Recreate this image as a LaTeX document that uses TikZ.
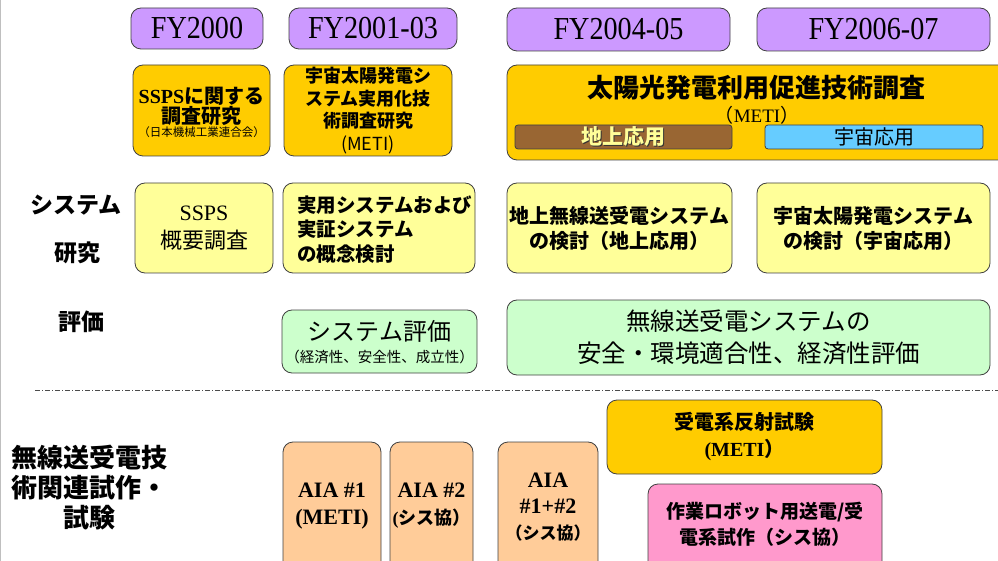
\documentclass[tikz,border=0pt]{standalone}
\usepackage{fontspec}
\setmainfont{Liberation Serif}
\newfontfamily\condserif{Liberation Serif}[FakeStretch=0.88]
\newfontfamily\jp{Noto Sans CJK JP}
\newcommand\jb{\jp\bfseries}
\definecolor{fypurple}{HTML}{CC99FF}
\definecolor{gold}{HTML}{FFCC00}
\definecolor{lyellow}{HTML}{FFFF99}
\definecolor{lgreen}{HTML}{CCFFCC}
\definecolor{brownbar}{HTML}{996633}
\definecolor{skyblue}{HTML}{66CCFF}
\definecolor{peach}{HTML}{FFCC99}
\definecolor{pinkbox}{HTML}{FF99CC}
\begin{document}
\begin{tikzpicture}[x=1pt,y=-1pt,
  box/.style={draw=black!75, line width=0.8pt, rounded corners=10pt, inner sep=0pt, align=center},
  bar/.style={draw=black!75, line width=0.8pt, rounded corners=3pt, inner sep=0pt, align=center},
  txt/.style={inner sep=0pt, align=center},
  fyfont/.style={font=\fontsize{32}{34}\selectfont\condserif},
  aiafont/.style={font=\fontsize{22}{27}\selectfont\bfseries},
  lbl/.style={inner sep=0pt, align=center, font=\fontsize{23}{30}\selectfont\jb}]
\path[use as bounding box] (0,0) rectangle (998,561);
\draw[gray!50, line width=1pt] (0.5,0) -- (0.5,561);
% year headers
\node[box, fill=fypurple, minimum width=132pt, minimum height=41pt, fyfont] (fy1) at (197,28.5) {FY2000};
\node[box, fill=fypurple, minimum width=168pt, minimum height=41pt, fyfont] (fy2) at (373,28.5) {FY2001-03};
\node[box, fill=fypurple, minimum width=223pt, minimum height=43pt, fyfont] (fy3) at (618.5,29.5) {FY2004-05};
\node[box, fill=fypurple, minimum width=233pt, minimum height=43pt, fyfont] (fy4) at (873.5,29.5) {FY2006-07};
% row 2
\node[box, fill=gold, minimum width=137pt, minimum height=91pt] (r2a) at (201.5,110.5) {};
\node[txt] (r2at) at (201.5,112) {{\fontsize{20}{24}\selectfont\bfseries SSPS\jb に関する}\\{\fontsize{20}{24}\selectfont\jb 調査研究}\\[1pt]{\fontsize{11.5}{13}\selectfont\jp （日本機械工業連合会）}};
\node[box, fill=gold, minimum width=168pt, minimum height=91pt, font=\fontsize{18}{22.5}\selectfont\jb] (r2b) at (368,110.5) {宇宙太陽発電シ\\ステム実用化技\\術調査研究\\{\mdseries (METI)}};
\node[box, fill=gold, minimum width=503pt, minimum height=95pt] (r2c) at (758.5,112.5) {};
\node[txt, font=\fontsize{26}{30}\selectfont\jb] (r2ct) at (756,88) {太陽光発電利用促進技術調査};
\node[txt, font=\fontsize{19}{20}\selectfont] (r2cm) at (757,115) {{\jp （}METI{\jp ）}};
\node[bar, fill=brownbar, minimum width=217pt, minimum height=24pt] (gnd) at (623.5,137) {};
\node[txt, font=\fontsize{21}{24}\selectfont\jb, text=black!80] at (624.5,138) {地上応用};
\node[txt, font=\fontsize{21}{24}\selectfont\jb, text=lyellow] (gndt) at (623.5,137) {地上応用};
\node[bar, fill=skyblue, minimum width=218pt, minimum height=24pt, font=\fontsize{20}{24}\selectfont\jp] (spc) at (874,137) {宇宙応用};
% row 3
\node[lbl] (lsys) at (76,205) {システム};
\node[lbl] (lken) at (77,253) {研究};
\node[box, fill=lyellow, minimum width=138pt, minimum height=90pt, font=\fontsize{22}{28}\selectfont] (r3a) at (204,228) {SSPS\\{\jp 概要調査}};
\node[box, fill=lyellow, minimum width=192pt, minimum height=90pt] (r3b) at (379,228) {};
\node[txt, align=left, anchor=west, font=\fontsize{19.5}{24.5}\selectfont\jb] (r3bt) at (297,229.5) {実用システムおよび\\実証システム\\の概念検討};
\node[box, fill=lyellow, minimum width=225pt, minimum height=90pt, font=\fontsize{20}{25}\selectfont\jb] (r3c) at (619.5,228) {地上無線送受電システム\\の検討（地上応用）};
\node[box, fill=lyellow, minimum width=233pt, minimum height=90pt, font=\fontsize{20}{25}\selectfont\jb] (r3d) at (873.5,228) {宇宙太陽発電システム\\の検討（宇宙応用）};
% row 4
\node[lbl] (lhyo) at (81,322) {評価};
\node[box, fill=lgreen, minimum width=195pt, minimum height=63pt] (r4a) at (379.5,341.5) {};
\node[txt, font=\fontsize{24}{28}\selectfont\jp] (r4at) at (379.5,331) {システム評価};
\node[txt, font=\fontsize{14.5}{16}\selectfont\jp] (r4as) at (379.5,357) {（経済性、安全性、成立性）};
\node[box, fill=lgreen, minimum width=483pt, minimum height=75pt, font=\fontsize{24.5}{32}\selectfont\jp] (r4b) at (748.5,337.5) {無線送受電システムの\\安全・環境適合性、経済性評価};
% separator
\coordinate (sepL) at (35,390);
\coordinate (sepR) at (998,390);
\draw[black!70, line width=0.7pt, dash pattern=on 5pt off 2pt on 1pt off 2pt] (sepL) -- (sepR);
% row 5
\node[lbl, font=\fontsize{26}{30}\selectfont\jb] (lmusen) at (89,488) {無線送受電技\\術関連試作・\\試験};
\node[box, fill=gold, minimum width=275pt, minimum height=74pt, font=\fontsize{20}{27}\selectfont\bfseries] (r5a) at (744.5,437) {{\jb 受電系反射試験}\\(METI{\jb ）}};
\node[box, fill=peach, minimum width=98pt, minimum height=140pt] (aia1) at (332,512) {};
\node[txt, aiafont] (aia1t) at (332,506) {AIA \#1\\(METI)};
\node[box, fill=peach, minimum width=83pt, minimum height=140pt] (aia2) at (431.5,512) {};
\node[txt, aiafont] (aia2t) at (431.5,506) {AIA \#2\\{\fontsize{18}{20}\selectfont(\jb シス協）}};
\node[box, fill=peach, minimum width=100pt, minimum height=140pt] (aia3) at (548,512) {};
\node[txt, aiafont, font=\fontsize{22}{26}\selectfont\bfseries] (aia3t) at (548,507) {AIA\\\#1+\#2\\{\fontsize{17}{20}\selectfont\jb （シス協）}};
\node[box, fill=pinkbox, minimum width=234pt, minimum height=100pt] (r5b) at (765,534) {};
\node[txt, font=\fontsize{19}{26}\selectfont\jb] (r5bt) at (765,524) {作業ロボット用送電/受\\電系試作（シス協）};
\end{tikzpicture}
\end{document}
